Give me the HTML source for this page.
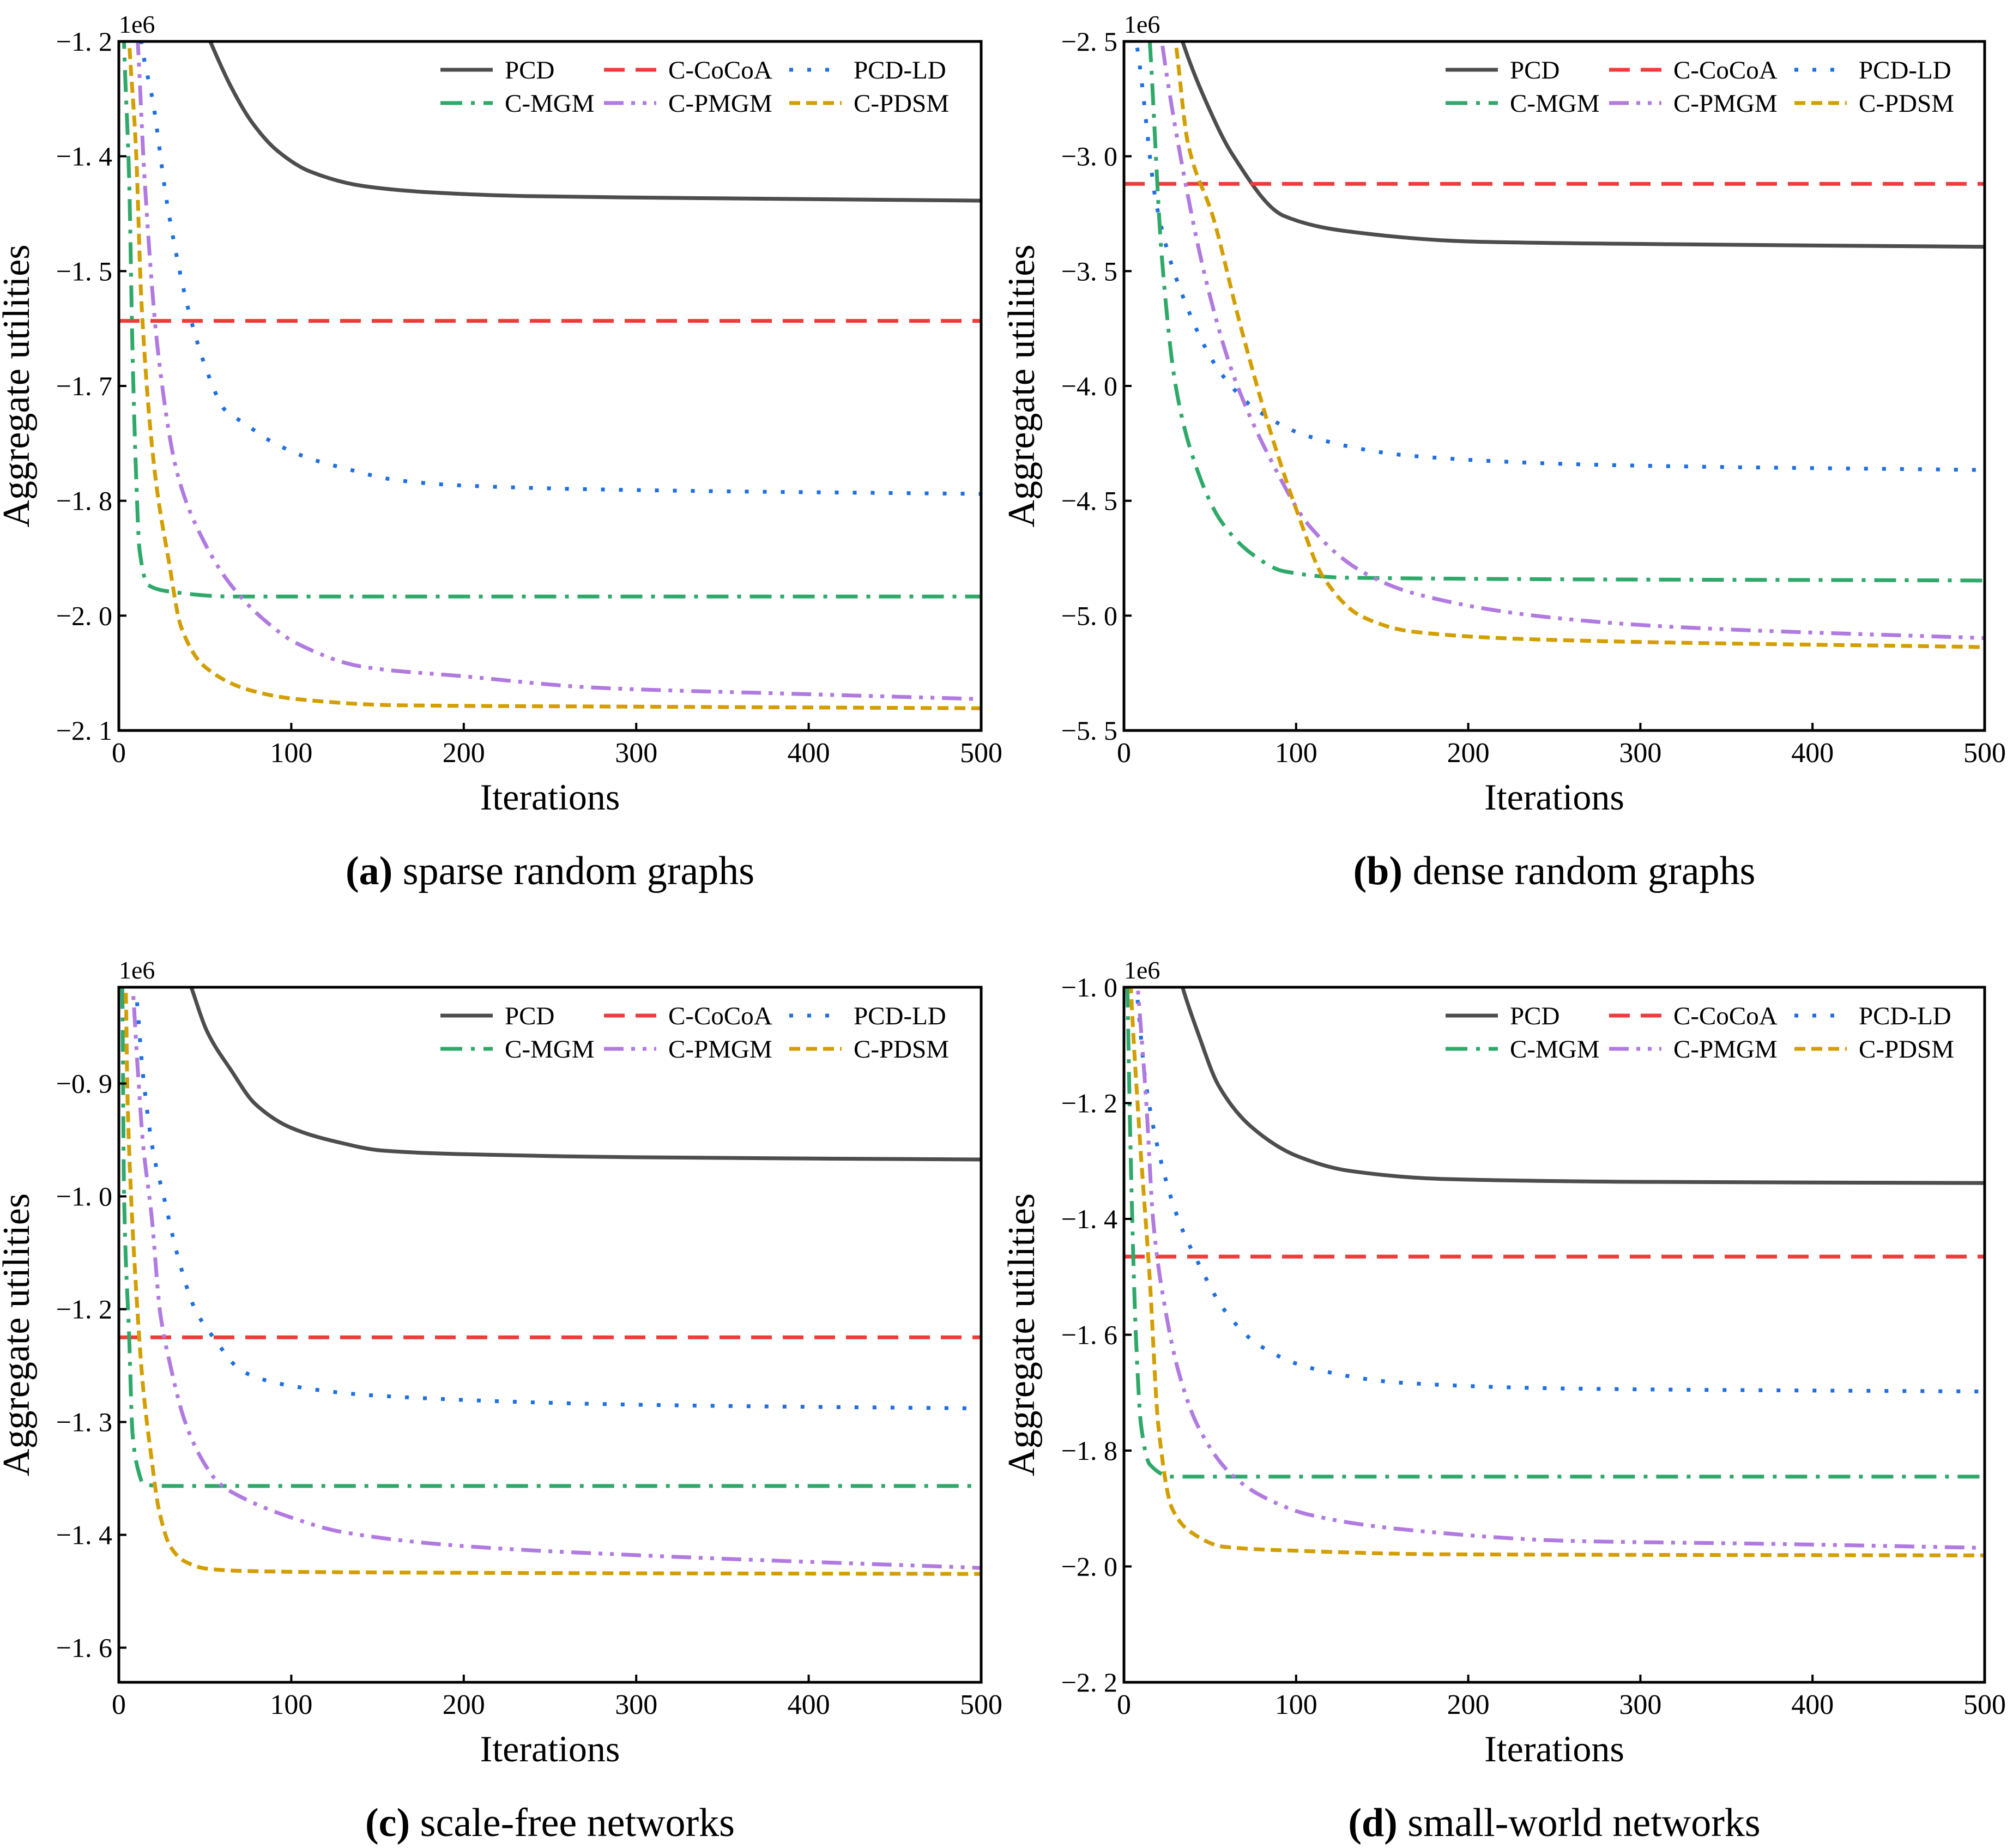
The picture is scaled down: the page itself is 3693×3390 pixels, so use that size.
<!DOCTYPE html>
<html><head><meta charset="utf-8"><style>
html,body{margin:0;padding:0;background:#fff;}
svg{display:block;}
text{font-family:"Liberation Serif",serif;fill:#000;}
</style></head>
<body>
<svg id="fig" width="3693" height="3390" viewBox="0 0 3693 3390" xmlns="http://www.w3.org/2000/svg"></svg>
<script>
// ---------- Panel (a) sparse random graphs ----------
const aPCDx=[0,53,65,77,92,111,142,180,237,352,500];
const aPCDy=[-0.9,-1.2,-1.259,-1.305,-1.343,-1.370,-1.389,-1.397,-1.402,-1.405,-1.408];
const aCoCoAx=[0,500];
const aCoCoAy=[-1.565,-1.565];
const aLDx=[0,13,20,28,42,53,61,73,88,111,130,161,199,300,500];
const aLDy=[-0.8,-1.2,-1.282,-1.412,-1.565,-1.642,-1.68,-1.699,-1.722,-1.745,-1.757,-1.773,-1.780,-1.786,-1.791];
const aMGMx=[0,3,6,8,10,12,17,31,65,500];
const aMGMy=[-0.9,-1.2,-1.382,-1.611,-1.765,-1.864,-1.910,-1.919,-1.925,-1.925];
const aPMGMx=[0,11,15,23,34,50,65,84,103,142,199,276,390,500];
const aPMGMy=[-0.8,-1.2,-1.382,-1.611,-1.765,-1.856,-1.910,-1.955,-1.986,-2.017,-2.029,-2.044,-2.052,-2.059];
const aPDSMx=[0,6,10,13,21,29,36,50,77,103,161,314,500];
const aPDSMy=[-0.9,-1.2,-1.343,-1.535,-1.765,-1.879,-1.964,-2.017,-2.048,-2.059,-2.067,-2.069,-2.071];
const aTickVals=[-1.2,-1.35,-1.5,-1.65,-1.8,-1.95,-2.1];
const aTickLabels=["−1. 2","−1. 4","−1. 5","−1. 7","−1. 8","−2. 0","−2. 1"];
// ---------- Panel (b) dense random graphs ----------
const bPCDx=[0,34,48,63,93,130,205,317,500];
const bPCDy=[-1.5,-2.5,-2.768,-2.992,-3.26,-3.327,-3.372,-3.383,-3.394];
const bCoCoAx=[0,500];
const bCoCoAy=[-3.12,-3.12];
const bLDx=[0,7,19,34,56,78,108,168,279,500];
const bLDy=[-2.3,-2.5,-3.215,-3.606,-3.941,-4.109,-4.221,-4.305,-4.344,-4.366];
const bMGMx=[0,15,22,30,41,56,75,93,130,500];
const bMGMy=[-1.0,-2.5,-3.439,-3.997,-4.332,-4.584,-4.735,-4.807,-4.835,-4.847];
const bPMGMx=[0,22,34,48,63,86,108,138,168,242,317,500];
const bPMGMy=[-1.0,-2.5,-3.048,-3.55,-3.941,-4.332,-4.612,-4.807,-4.902,-5.003,-5.048,-5.098];
const bPDSMx=[0,30,37,52,67,86,101,116,138,168,242,500];
const bPDSMy=[-1.0,-2.5,-2.936,-3.271,-3.718,-4.221,-4.556,-4.835,-5.003,-5.07,-5.104,-5.137];
const bTickVals=[-2.5,-3.0,-3.5,-4.0,-4.5,-5.0,-5.5];
const bTickLabels=["−2. 5","−3. 0","−3. 5","−4. 0","−4. 5","−5. 0","−5. 5"];
// ---------- Panel (c) scale-free networks ----------
const cPCDx=[0,42,51,65,79,100,129,152,200,300,500];
const cPCDy=[-0.5,-0.772,-0.830,-0.882,-0.927,-0.959,-0.979,-0.989,-0.994,-0.998,-1.001];
const cCoCoAx=[0,500];
const cCoCoAy=[-1.2375,-1.2375];
const cLDx=[0,9.5,14,20,26,34,44,55,72,100,150,300,500];
const cLDy=[-0.7,-0.772,-0.888,-0.992,-1.05,-1.128,-1.199,-1.238,-1.283,-1.302,-1.315,-1.327,-1.332];
const cMGMx=[0,2,3,6,8,11,14,23,500];
const cMGMy=[-0.6,-0.772,-1.044,-1.238,-1.367,-1.412,-1.431,-1.435,-1.435];
const cPMGMx=[0,8,11,14,19,24,30,38,48,58,72,100,129,200,300,500];
const cPMGMy=[-0.6,-0.772,-0.882,-0.979,-1.076,-1.205,-1.276,-1.347,-1.399,-1.431,-1.451,-1.477,-1.496,-1.515,-1.527,-1.544];
const cPDSMx=[0,4,5,7,10,14,19,23,30,38,51,72,150,500];
const cPDSMy=[-0.6,-0.772,-0.914,-1.044,-1.173,-1.302,-1.399,-1.464,-1.516,-1.535,-1.545,-1.548,-1.550,-1.552];
const cTickVals=[-0.9,-1.05,-1.2,-1.35,-1.5,-1.65];
const cTickLabels=["−0. 9","−1. 0","−1. 2","−1. 3","−1. 4","−1. 6"];
// ---------- Panel (d) small-world networks ----------
const dPCDx=[0,34,43,55,74,101,131,185,299,500];
const dPCDy=[-0.6,-1.0,-1.079,-1.170,-1.241,-1.292,-1.317,-1.331,-1.336,-1.338];
const dCoCoAx=[0,500];
const dCoCoAy=[-1.465,-1.465];
const dLDx=[0,7,12,20,32,43,58,78,108,162,261,500];
const dLDy=[-0.9,-1.0,-1.150,-1.282,-1.404,-1.475,-1.556,-1.617,-1.657,-1.683,-1.693,-1.698];
const dMGMx=[0,2,4,7,10,15,28,500];
const dMGMy=[-0.7,-1.0,-1.302,-1.606,-1.758,-1.824,-1.845,-1.845];
const dPMGMx=[0,8,13,17,24,32,43,62,81,108,162,261,376,500];
const dPMGMy=[-0.7,-1.0,-1.201,-1.404,-1.556,-1.667,-1.758,-1.840,-1.880,-1.911,-1.936,-1.956,-1.961,-1.968];
const dPDSMx=[0,4,9,15,20,28,39,58,101,185,500];
const dPDSMy=[-0.7,-1.0,-1.251,-1.505,-1.758,-1.900,-1.941,-1.966,-1.973,-1.979,-1.981];
const dTickVals=[-1.0,-1.2,-1.4,-1.6,-1.8,-2.0,-2.2];
const dTickLabels=["−1. 0","−1. 2","−1. 4","−1. 6","−1. 8","−2. 0","−2. 2"];

const xTickVals=[0,100,200,300,400,500];
const xTickLabels=["0","100","200","300","400","500"];
const seriesNames=["PCD","C-CoCoA","PCD-LD","C-MGM","C-PMGM","C-PDSM"];

const NS="http://www.w3.org/2000/svg";
const svg=document.getElementById('fig');
function mk(tag,attrs,parent){const e=document.createElementNS(NS,tag);for(const k in attrs)e.setAttribute(k,attrs[k]);(parent||svg).appendChild(e);return e;}

// monotone cubic (Fritsch-Carlson) in pixel space
function smoothPath(P){
 const n=P.length;
 if(n<3){return 'M'+P.map(p=>p[0].toFixed(1)+' '+p[1].toFixed(1)).join('L');}
 const dx=[],dy=[],m=[];
 for(let i=0;i<n-1;i++){dx.push(P[i+1][0]-P[i][0]);dy.push(P[i+1][1]-P[i][1]);m.push(dy[i]/dx[i]);}
 const t=[m[0]];
 for(let i=1;i<n-1;i++){ if(m[i-1]*m[i]<=0)t.push(0); else {const w1=2*dx[i]+dx[i-1],w2=dx[i]+2*dx[i-1];t.push((w1+w2)/(w1/m[i-1]+w2/m[i]));}}
 t.push(m[n-2]);
 let d='M'+P[0][0].toFixed(1)+' '+P[0][1].toFixed(1);
 for(let i=0;i<n-1;i++){
  const h=dx[i]/3;
  d+='C'+(P[i][0]+h).toFixed(1)+' '+(P[i][1]+t[i]*h).toFixed(1)+' '+(P[i+1][0]-h).toFixed(1)+' '+(P[i+1][1]-t[i+1]*h).toFixed(1)+' '+P[i+1][0].toFixed(1)+' '+P[i+1][1].toFixed(1);
 }
 return d;
}

const styles={
 "PCD":{c:"#4d4d4d",d:""},
 "C-CoCoA":{c:"#ee3c3c",d:"38 20"},
 "PCD-LD":{c:"#1f6fe0",d:"7 26"},
 "C-MGM":{c:"#2fa96a",d:"40 16 7 16"},
 "C-PMGM":{c:"#b07ae0",d:"36 14 7 14 7 14"},
 "C-PDSM":{c:"#d39e00",d:"20 11"}
};

const panels=[
 {id:"a",L:218,R:1800,T:76,B:1340,ymax:-1.2,ymin:-2.1,tv:aTickVals,tl:aTickLabels,cap:"sparse random graphs",
  s:[[aPCDx,aPCDy],[aCoCoAx,aCoCoAy],[aLDx,aLDy],[aMGMx,aMGMy],[aPMGMx,aPMGMy],[aPDSMx,aPDSMy]]},
 {id:"b",L:2062,R:3641,T:76,B:1340,ymax:-2.5,ymin:-5.5,tv:bTickVals,tl:bTickLabels,cap:"dense random graphs",
  s:[[bPCDx,bPCDy],[bCoCoAx,bCoCoAy],[bLDx,bLDy],[bMGMx,bMGMy],[bPMGMx,bPMGMy],[bPDSMx,bPDSMy]]},
 {id:"c",L:218,R:1800,T:1811,B:3086,ymax:-0.772,ymin:-1.696,tv:cTickVals,tl:cTickLabels,cap:"scale-free networks",
  s:[[cPCDx,cPCDy],[cCoCoAx,cCoCoAy],[cLDx,cLDy],[cMGMx,cMGMy],[cPMGMx,cPMGMy],[cPDSMx,cPDSMy]]},
 {id:"d",L:2062,R:3641,T:1811,B:3086,ymax:-1.0,ymin:-2.2,tv:dTickVals,tl:dTickLabels,cap:"small-world networks",
  s:[[dPCDx,dPCDy],[dCoCoAx,dCoCoAy],[dLDx,dLDy],[dMGMx,dMGMy],[dPMGMx,dPMGMy],[dPDSMx,dPDSMy]]}
];

panels.forEach(p=>{
 const g=mk('g',{});
 
 
 const xs=v=>p.L+(v-0)/(500-0)*(p.R-p.L);
 const ys=v=>p.T+(p.ymax-v)/(p.ymax-p.ymin)*(p.B-p.T);
 const cp=mk('clipPath',{id:'clip'+p.id},g);
 mk('rect',{x:p.L,y:p.T,width:p.R-p.L,height:p.B-p.T},cp);
 const sg=mk('g',{'clip-path':'url(#clip'+p.id+')'},g);
 p.s.forEach((ser,i)=>{
  const nm=seriesNames[i],st=styles[nm];
  const pts=ser[0].map((xv,j)=>[xs(xv),ys(ser[1][j])]);
  const path=mk('path',{d:smoothPath(pts),fill:'none',stroke:st.c,'stroke-width':7,'stroke-linejoin':'round','stroke-linecap':'butt'},sg);
  if(st.d)path.setAttribute('stroke-dasharray',st.d);
  
  
 });
 const fr=mk('rect',{x:p.L,y:p.T,width:p.R-p.L,height:p.B-p.T,fill:'none',stroke:'#000','stroke-width':5},g);
 
 
 p.tv.forEach((v,i)=>{
  const y=ys(v);
  mk('line',{x1:p.L,x2:p.L+14,y1:y,y2:y,stroke:'#000','stroke-width':4},g);
  const t=mk('text',{x:p.L-12,y:y+17,'text-anchor':'end','font-size':50},g);
  t.textContent=p.tl[i];
  
  
 });
 xTickVals.forEach((v,i)=>{
  const x=xs(v);
  mk('line',{x1:x,x2:x,y1:p.B,y2:p.B-14,stroke:'#000','stroke-width':4},g);
  const t=mk('text',{x:x,y:p.B+58,'text-anchor':'middle','font-size':52},g);
  t.textContent=xTickLabels[i];
  
  
 });
 const off=mk('text',{x:p.L,y:p.T-16,'font-size':46},g);
 off.textContent='1e6';
 
 
 const xl=mk('text',{x:(p.L+p.R)/2,y:p.B+145,'text-anchor':'middle','font-size':68},g);
 xl.textContent='Iterations';
 
 
 const ycx=p.L-165,ycy=(p.T+p.B)/2;
 const yl=mk('text',{x:ycx,y:ycy,'text-anchor':'middle','font-size':70,transform:'rotate(-90 '+ycx+' '+ycy+')'},g);
 yl.textContent='Aggregate utilities';
 
 
 const cap=mk('text',{x:(p.L+p.R)/2,y:p.B+282,'text-anchor':'middle','font-size':74},g);
 const b=mk('tspan',{'font-weight':'bold'},cap);b.textContent='('+p.id+')';
 const r=mk('tspan',{},cap);r.textContent=' '+p.cap;
 
 
 const lg=mk('g',{},g);
 
 
 const colX=[p.L+590,p.L+890,p.L+1230];
 const rowY=[p.T+52,p.T+113];
 const order=[["PCD","C-CoCoA","PCD-LD"],["C-MGM","C-PMGM","C-PDSM"]];
 order.forEach((row,ri)=>row.forEach((nm,ci)=>{
  const st=styles[nm];const x0=colX[ci],y0=rowY[ri];
  const e=mk('g',{},lg);
  
  
  const ln=mk('line',{x1:x0,x2:x0+96,y1:y0,y2:y0,stroke:st.c,'stroke-width':7},e);
  if(st.d)ln.setAttribute('stroke-dasharray',st.d);
  const t=mk('text',{x:x0+118,y:y0+16,'font-size':47},e);
  t.textContent=nm;
 }));
});
</script>
</body></html>
